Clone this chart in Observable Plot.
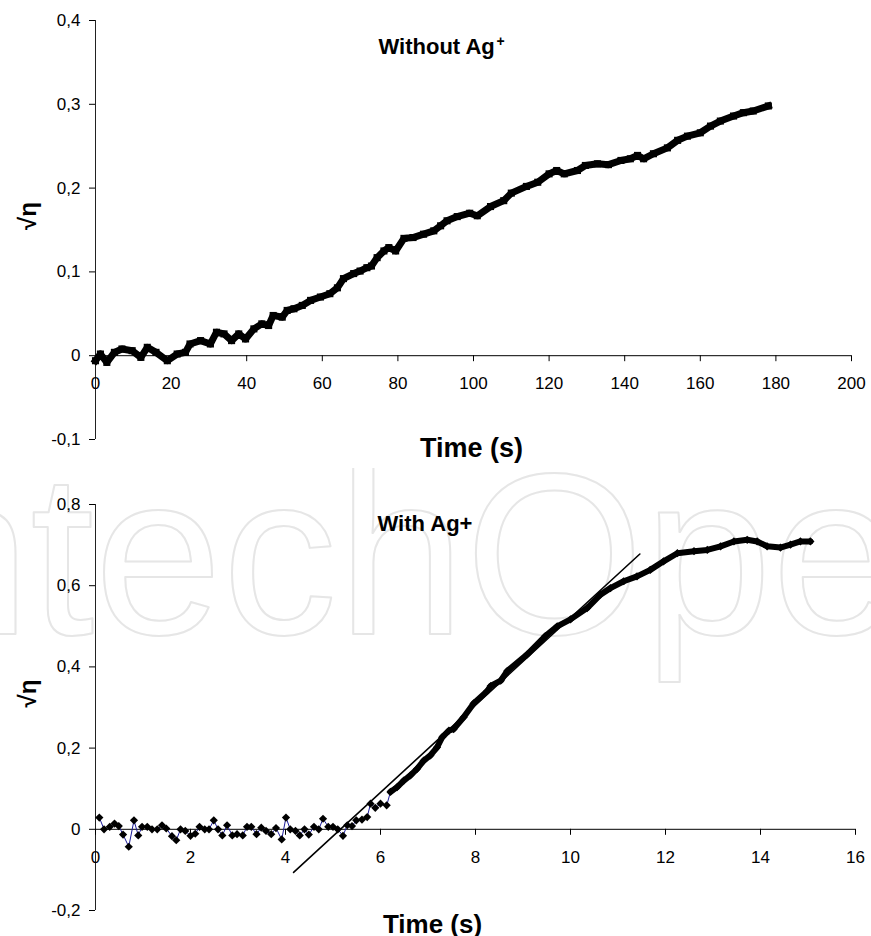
<!DOCTYPE html>
<html>
<head>
<meta charset="utf-8">
<script src="https://cdn.jsdelivr.net/npm/d3@7"></script>
<script src="https://cdn.jsdelivr.net/npm/@observablehq/plot@0.6"></script>
<style>
  html, body { margin: 0; padding: 0; background: #fff; }
  #chart svg { display: block; }
</style>
</head>
<body>
<div id="chart"></div>
<script>
// ---- Data: panel 1, without Ag+ ----
const timeWithout = [0, 1.3, 3, 5, 7, 9.7, 12, 13.7, 16, 19, 21.6, 23.8, 25, 27.8, 30.4, 32, 34, 36, 37.9, 39.7,
  41.9, 44, 45.8, 47, 49.4, 50.7, 52.5, 54.7, 56.9, 59.5, 62, 64, 65.6, 68.3, 70, 71.8, 73, 74.5, 76.3, 77.6,
  79.4, 81.6, 84, 86.8, 89.5, 91.3, 93, 95.7, 99, 101, 104.5, 108, 110, 114, 117, 120, 122, 124, 127.5, 129.6,
  132.8, 135.7, 139, 141.5, 143.4, 145, 147.6, 151.3, 154, 156.6, 160, 162.7, 165.3, 168.8, 171.4, 174, 178];
const etaWithout = [-0.006, 0.002, -0.008, 0.004, 0.008, 0.006, -0.002, 0.01, 0.004, -0.006, 0.002, 0.004, 0.014, 0.018, 0.014, 0.028, 0.026, 0.018, 0.026, 0.02,
  0.032, 0.038, 0.036, 0.048, 0.046, 0.054, 0.056, 0.06, 0.066, 0.07, 0.074, 0.081, 0.092, 0.098, 0.101, 0.105, 0.107, 0.117, 0.125, 0.129,
  0.125, 0.14, 0.141, 0.145, 0.149, 0.155, 0.161, 0.166, 0.17, 0.167, 0.178, 0.185, 0.194, 0.202, 0.207, 0.217, 0.221, 0.217, 0.221, 0.227,
  0.229, 0.228, 0.233, 0.235, 0.239, 0.235, 0.241, 0.248, 0.257, 0.262, 0.266, 0.274, 0.28, 0.286, 0.29, 0.292, 0.298];

// ---- Data: panel 2, with Ag+ ----
const timeWith = [0.08, 0.18, 0.3, 0.4, 0.49, 0.58, 0.7, 0.81, 0.9, 0.98, 1.09, 1.19, 1.3, 1.4, 1.49, 1.61, 1.7, 1.79, 1.89, 2.0,
  2.1, 2.19, 2.3, 2.39, 2.49, 2.58, 2.67, 2.77, 2.88, 2.98, 3.1, 3.19, 3.28, 3.39, 3.49, 3.59, 3.7, 3.8, 3.92, 4.01,
  4.1, 4.21, 4.3, 4.4, 4.49, 4.6, 4.7, 4.79, 4.9, 5.0, 5.1, 5.21, 5.3, 5.4, 5.49, 5.61, 5.72, 5.79, 5.89, 6.0,
  6.13, 6.21, 6.35, 6.49, 6.63, 6.77, 6.91, 7.05, 7.19, 7.3, 7.44, 7.54, 7.75, 7.96, 8.25, 8.32, 8.53, 8.67, 9.09, 9.47,
  9.72, 10.0, 10.35, 10.63, 10.84, 11.12, 11.4, 11.68, 11.96, 12.25, 12.6, 12.88, 13.16, 13.44, 13.72, 13.93, 14.14, 14.42, 14.63, 14.84, 15.05];
const etaWith = [0.029, 0.0, 0.006, 0.014, 0.008, -0.013, -0.043, 0.022, -0.015, 0.006, 0.006, 0, 0, 0.01, 0.002, -0.017, -0.027, 0, -0.004, -0.016,
  -0.011, 0.006, 0, 0, 0.022, 0, -0.015, 0.01, -0.015, -0.012, -0.015, 0.006, 0.006, -0.012, 0.004, -0.004, -0.012, 0.003, -0.025, 0.029,
  0, -0.004, -0.015, 0, -0.013, 0.006, 0, 0.026, 0.006, 0.006, 0, -0.016, 0.01, 0.008, 0.022, 0.024, 0.03, 0.063, 0.053, 0.063,
  0.059, 0.092, 0.104, 0.12, 0.133, 0.149, 0.169, 0.182, 0.202, 0.227, 0.243, 0.247, 0.276, 0.31, 0.341, 0.353, 0.366, 0.39, 0.431, 0.476,
  0.5, 0.517, 0.545, 0.578, 0.594, 0.611, 0.623, 0.639, 0.66, 0.68, 0.685, 0.688, 0.697, 0.709, 0.713, 0.709, 0.697, 0.694, 0.701, 0.709, 0.709];

// linear fit drawn on panel 2 (end points)
const trendTime = [4.17, 11.46];
const trendEta = [-0.106, 0.678];

// ---- Ticks & labels ----
const xTicksTop = [0, 20, 40, 60, 80, 100, 120, 140, 160, 180, 200];
const yTicksTop = [-0.1, 0, 0.1, 0.2, 0.3, 0.4];
const xTicksBottom = [0, 2, 4, 6, 8, 10, 12, 14, 16];
const yTicksBottom = [-0.2, 0, 0.2, 0.4, 0.6, 0.8];
const titleTop = "Without Ag";
const titleBottom = "With Ag+";
const xLabel = "Time (s)";
const yLabel = "√η";
const watermark = "IntechOpen";

const without = timeWithout.map((t, i) => ({t, v: etaWithout[i]}));
const withAg = timeWith.map((t, i) => ({t, v: etaWith[i]}));
const trend = trendTime.map((t, i) => ({t, v: trendEta[i]}));

const fmt = d => d === 0 ? "0" : d.toFixed(1).replace(".", ",");
const FONT = "'Liberation Sans', Arial, Helvetica, sans-serif";

function axesMarks(xTicks, yTicks) {
  return [
    Plot.ruleX([0], {stroke: "#222", strokeWidth: 1}),
    Plot.ruleY([0], {stroke: "#000", strokeWidth: 1}),
    Plot.ruleX(xTicks, {x: d => d, y1: 0, y2: 0, insetBottom: -6, stroke: "#000"}),
    Plot.text(xTicks, {x: d => d, y: 0, dy: 28, text: d => String(d), fontSize: 17, fill: "#000"}),
    Plot.axisY(yTicks, {tickSize: 6, tickPadding: 9, tickFormat: fmt, label: null, fontSize: 17, stroke: "#000", color: "#000"})
  ];
}

const topChart = Plot.plot({
  width: 871, height: 468,
  marginLeft: 95, marginRight: 20, marginTop: 20, marginBottom: 29,
  style: {fontFamily: FONT, fontSize: "17px", color: "#000", background: "#fff", overflow: "visible"},
  x: {domain: [0, 200], axis: null},
  y: {domain: [-0.1, 0.4]},
  marks: [
    ...axesMarks(xTicksTop, yTicksTop),
    Plot.line(without, {x: "t", y: "v", stroke: "#000", strokeWidth: 7, strokeLinejoin: "round", strokeLinecap: "square"}),
    Plot.dot(without, {x: "t", y: "v", symbol: "square", r: 4, fill: "#000", stroke: null}),
    Plot.text([titleTop], {frameAnchor: "top-left", dx: 283, dy: 33, textAnchor: "start", lineAnchor: "bottom", fontSize: 22, fontWeight: "bold", fill: "#000"}),
    Plot.text(["+"], {frameAnchor: "top-left", dx: 401, dy: 25, textAnchor: "start", lineAnchor: "bottom", fontSize: 14, fontWeight: "bold", fill: "#000"}),
    Plot.text([xLabel], {frameAnchor: "bottom", dx: -2, dy: 17, lineAnchor: "bottom", fontSize: 27, fontWeight: "bold", fill: "#000"}),
    Plot.text([yLabel], {frameAnchor: "left", dx: -67, rotate: -90, fontSize: 24, fontWeight: "bold", fill: "#000"})
  ]
});

const bottomChart = Plot.plot({
  width: 871, height: 468,
  marginLeft: 95, marginRight: 16, marginTop: 36, marginBottom: 26,
  style: {fontFamily: FONT, fontSize: "17px", color: "#000", background: "#fff"},
  x: {domain: [0, 16], axis: null},
  y: {domain: [-0.2, 0.8]},
  marks: [
    Plot.text([watermark], {frameAnchor: "top-left", dx: -257, dy: 129, textAnchor: "start", lineAnchor: "bottom", fontSize: 230, fontFamily: FONT, fill: "none", stroke: "#e6e6e6", strokeWidth: 2}),
    ...axesMarks(xTicksBottom, yTicksBottom),
    Plot.line(withAg, {x: "t", y: "v", stroke: "#1a1a9a", strokeWidth: 1}),
    Plot.line(withAg.filter(d => d.t >= 6.2), {x: "t", y: "v", stroke: "#000", strokeWidth: 6, strokeLinejoin: "round"}),
    Plot.dot(withAg, {x: "t", y: "v", symbol: "diamond2", r: 3.7, fill: "#000", stroke: null}),
    Plot.line(trend, {x: "t", y: "v", stroke: "#000", strokeWidth: 1.6}),
    Plot.text([titleBottom], {frameAnchor: "top-left", dx: 282, dy: 26, textAnchor: "start", lineAnchor: "bottom", fontSize: 22, fontWeight: "bold", fill: "#000"}),
    Plot.text([xLabel], {frameAnchor: "bottom", dx: -43, dy: 22, lineAnchor: "bottom", fontSize: 26, fontWeight: "bold", fill: "#000"}),
    Plot.text([yLabel], {frameAnchor: "left", dx: -67, rotate: -90, fontSize: 24, fontWeight: "bold", fill: "#000"})
  ]
});

const chart = document.getElementById("chart");
chart.appendChild(topChart);
chart.appendChild(bottomChart);
</script>
</body>
</html>
